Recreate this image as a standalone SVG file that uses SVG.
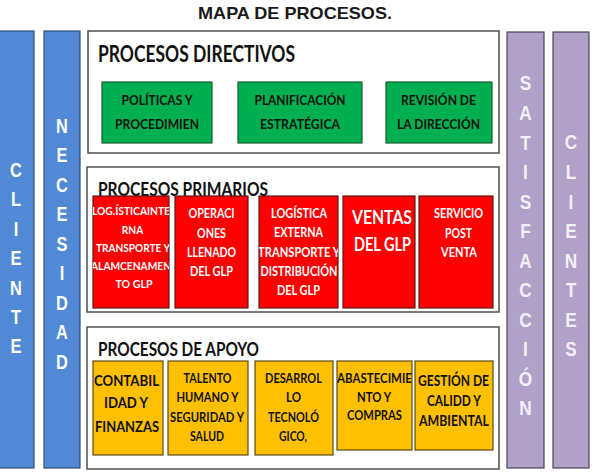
<svg xmlns="http://www.w3.org/2000/svg" width="593" height="473" viewBox="0 0 593 473">
<style>
.bg{fill:#ffffff}
.title{font-family:"Liberation Sans",Arial,sans-serif;font-weight:bold;font-size:17px;fill:#1a1a1a}
.col-blue{fill:#5189d5;stroke:#2f4e78;stroke-width:1.2}
.col-purple{fill:#b1a0c7;stroke:#4a4458;stroke-width:1.2}
.colt{font-family:"Liberation Sans",Arial,sans-serif;font-weight:bold;font-size:20px;fill:#ffffff;text-anchor:middle}
.colp{font-family:"Liberation Sans",Arial,sans-serif;font-weight:bold;font-size:21px;fill:#f4f0fa;text-anchor:middle}
.cont{fill:#ffffff;stroke:#4d4d4d;stroke-width:1.5}
.head{font-family:Lato,"Open Sans",sans-serif;font-weight:bold;fill:#111111}
.green{fill:#00b050;stroke:#1f5a30;stroke-width:1.2}
.red{fill:#ff0000;stroke:#5a1a1a;stroke-width:1.2}
.yellow{fill:#ffc000;stroke:#5a4a1a;stroke-width:1.2}
.bt{font-family:Lato,"Open Sans",sans-serif;font-weight:bold;text-anchor:middle}
.gt{fill:#111111;font-size:14px}
.rt{fill:#ffffff}
.yt{fill:#111111}
</style>
<defs>
<clipPath id="cR1"><rect x="93" y="196" width="76" height="112"/></clipPath>
<clipPath id="cR3"><rect x="259" y="196" width="79" height="112"/></clipPath>
<clipPath id="cY4"><rect x="337" y="361" width="75" height="89"/></clipPath>
</defs>
<rect class="bg" x="0" y="0" width="593" height="473"/>
<text class="title" x="295" y="19" text-anchor="middle" textLength="194" lengthAdjust="spacingAndGlyphs">MAPA DE PROCESOS.</text>

<g id="col-cliente">
<rect class="col-blue" x="-2" y="31" width="36" height="437"/>
<g transform="translate(16 0) scale(0.82 1)">
<text class="colt" x="0" y="177">C</text>
<text class="colt" x="0" y="206.4">L</text>
<text class="colt" x="0" y="235.8">I</text>
<text class="colt" x="0" y="265.2">E</text>
<text class="colt" x="0" y="294.6">N</text>
<text class="colt" x="0" y="324">T</text>
<text class="colt" x="0" y="353.4">E</text>
</g>
</g>

<g id="col-necesidad">
<rect class="col-blue" x="44" y="31" width="36" height="437"/>
<g transform="translate(62 0) scale(0.82 1)">
<text class="colt" x="0" y="133">N</text>
<text class="colt" x="0" y="162.5">E</text>
<text class="colt" x="0" y="192">C</text>
<text class="colt" x="0" y="221.5">E</text>
<text class="colt" x="0" y="251">S</text>
<text class="colt" x="0" y="280.5">I</text>
<text class="colt" x="0" y="310">D</text>
<text class="colt" x="0" y="339.5">A</text>
<text class="colt" x="0" y="369">D</text>
</g>
</g>

<g id="col-satisfaccion">
<rect class="col-purple" x="507" y="32" width="37" height="436"/>
<g transform="translate(525.5 0) scale(0.82 1)">
<text class="colp" x="0" y="90.5">S</text>
<text class="colp" x="0" y="120">A</text>
<text class="colp" x="0" y="149.6">T</text>
<text class="colp" x="0" y="179.1">I</text>
<text class="colp" x="0" y="208.7">S</text>
<text class="colp" x="0" y="238.2">F</text>
<text class="colp" x="0" y="267.8">A</text>
<text class="colp" x="0" y="297.3">C</text>
<text class="colp" x="0" y="326.9">C</text>
<text class="colp" x="0" y="356.4">I</text>
<text class="colp" x="0" y="386">Ó</text>
<text class="colp" x="0" y="415.5">N</text>
</g>
</g>

<g id="col-clientes">
<rect class="col-purple" x="553" y="32" width="36" height="436"/>
<g transform="translate(571 0) scale(0.82 1)">
<text class="colp" x="0" y="149.5">C</text>
<text class="colp" x="0" y="179">L</text>
<text class="colp" x="0" y="208.6">I</text>
<text class="colp" x="0" y="238.2">E</text>
<text class="colp" x="0" y="267.8">N</text>
<text class="colp" x="0" y="297.3">T</text>
<text class="colp" x="0" y="326.9">E</text>
<text class="colp" x="0" y="356.5">S</text>
</g>
</g>

<g id="procesos-directivos">
<rect class="cont" x="88" y="31" width="411" height="122"/>
<text class="head" x="98" y="62" font-size="22" textLength="197" lengthAdjust="spacingAndGlyphs">PROCESOS DIRECTIVOS</text>
</g>
<g id="politicas">
<rect class="green" x="102" y="82" width="110" height="61"/>
<text class="bt gt" x="157" y="105" textLength="71" lengthAdjust="spacingAndGlyphs">POLÍTICAS Y</text>
<text class="bt gt" x="157" y="129" textLength="84" lengthAdjust="spacingAndGlyphs">PROCEDIMIEN</text>
</g>
<g id="planificacion">
<rect class="green" x="238" y="82" width="124" height="61"/>
<text class="bt gt" x="300" y="105" textLength="91" lengthAdjust="spacingAndGlyphs">PLANIFICACIÓN</text>
<text class="bt gt" x="300" y="129" textLength="80" lengthAdjust="spacingAndGlyphs">ESTRATÉGICA</text>
</g>
<g id="revision">
<rect class="green" x="386" y="82" width="106" height="61"/>
<text class="bt gt" x="438.5" y="105" textLength="75" lengthAdjust="spacingAndGlyphs">REVISIÓN DE</text>
<text class="bt gt" x="438.5" y="129" textLength="83" lengthAdjust="spacingAndGlyphs">LA DIRECCIÓN</text>
</g>

<g id="procesos-primarios">
<rect class="cont" x="87" y="167" width="412" height="145"/>
<text class="head" x="98" y="196" font-size="19" textLength="170" lengthAdjust="spacingAndGlyphs">PROCESOS PRIMARIOS</text>
</g>
<g id="logistica-interna">
<rect class="red" x="93" y="196" width="76" height="112"/>
<g clip-path="url(#cR1)" class="bt rt" font-size="11">
<text x="131" y="215" textLength="78" lengthAdjust="spacingAndGlyphs">LOG.ÍSTICAINTE</text>
<text x="132.5" y="234" textLength="21.5" lengthAdjust="spacingAndGlyphs">RNA</text>
<text x="133" y="252" textLength="74" lengthAdjust="spacingAndGlyphs">TRANSPORTE Y</text>
<text x="131" y="270" textLength="80" lengthAdjust="spacingAndGlyphs">ALAMCENAMEN</text>
<text x="134" y="288" textLength="37" lengthAdjust="spacingAndGlyphs">TO GLP</text>
</g>
</g>
<g id="operaciones">
<rect class="red" x="175" y="196" width="73" height="112"/>
<g class="bt rt" font-size="13.5">
<text x="211.5" y="218" textLength="46" lengthAdjust="spacingAndGlyphs">OPERACI</text>
<text x="211.5" y="237.5" textLength="29" lengthAdjust="spacingAndGlyphs">ONES</text>
<text x="211.5" y="256.5" textLength="49" lengthAdjust="spacingAndGlyphs">LLENADO</text>
<text x="211.5" y="276" textLength="43" lengthAdjust="spacingAndGlyphs">DEL GLP</text>
</g>
</g>
<g id="logistica-externa">
<rect class="red" x="259" y="196" width="79" height="112"/>
<g clip-path="url(#cR3)" class="bt rt" font-size="13.5">
<text x="299" y="218" textLength="56" lengthAdjust="spacingAndGlyphs">LOGÍSTICA</text>
<text x="298.5" y="237" textLength="49" lengthAdjust="spacingAndGlyphs">EXTERNA</text>
<text x="299" y="256.5" textLength="82" lengthAdjust="spacingAndGlyphs">TRANSPORTE Y</text>
<text x="299" y="276" textLength="77" lengthAdjust="spacingAndGlyphs">DISTRIBUCIÓN</text>
<text x="298.5" y="295" textLength="43" lengthAdjust="spacingAndGlyphs">DEL GLP</text>
</g>
</g>
<g id="ventas">
<rect class="red" x="343" y="196" width="72" height="112"/>
<g class="bt rt" font-size="19">
<text x="382" y="224" textLength="60" lengthAdjust="spacingAndGlyphs">VENTAS</text>
<text x="382.5" y="251" textLength="57" lengthAdjust="spacingAndGlyphs">DEL GLP</text>
</g>
</g>
<g id="servicio-post-venta">
<rect class="red" x="419" y="196" width="74" height="112"/>
<g class="bt rt" font-size="12.5">
<text x="458.5" y="218" textLength="49" lengthAdjust="spacingAndGlyphs">SERVICIO</text>
<text x="458.5" y="238" textLength="27" lengthAdjust="spacingAndGlyphs">POST</text>
<text x="459" y="256.5" textLength="36" lengthAdjust="spacingAndGlyphs">VENTA</text>
</g>
</g>

<g id="procesos-apoyo">
<rect class="cont" x="87" y="327" width="412" height="142"/>
<text class="head" x="98" y="356" font-size="19" textLength="161" lengthAdjust="spacingAndGlyphs">PROCESOS DE APOYO</text>
</g>
<g id="contabilidad">
<rect class="yellow" x="93" y="361" width="70" height="94"/>
<g class="bt yt" font-size="15">
<text x="126.5" y="386" textLength="65" lengthAdjust="spacingAndGlyphs">CONTABIL</text>
<text x="126" y="408" textLength="44" lengthAdjust="spacingAndGlyphs">IDAD Y</text>
<text x="127" y="432" textLength="64" lengthAdjust="spacingAndGlyphs">FINANZAS</text>
</g>
</g>
<g id="talento-humano">
<rect class="yellow" x="168" y="361" width="80" height="94"/>
<g class="bt yt" font-size="13.5">
<text x="207.5" y="383" textLength="48" lengthAdjust="spacingAndGlyphs">TALENTO</text>
<text x="207.5" y="402" textLength="62" lengthAdjust="spacingAndGlyphs">HUMANO Y</text>
<text x="207" y="421.5" textLength="74" lengthAdjust="spacingAndGlyphs">SEGURIDAD Y</text>
<text x="207" y="440.5" textLength="34" lengthAdjust="spacingAndGlyphs">SALUD</text>
</g>
</g>
<g id="desarrollo-tecnologico">
<rect class="yellow" x="255" y="361" width="78" height="94"/>
<g class="bt yt" font-size="13.5">
<text x="293.5" y="383" textLength="57" lengthAdjust="spacingAndGlyphs">DESARROL</text>
<text x="293.5" y="402" textLength="15" lengthAdjust="spacingAndGlyphs">LO</text>
<text x="293.5" y="421.5" textLength="51" lengthAdjust="spacingAndGlyphs">TECNOLÓ</text>
<text x="293" y="440.5" textLength="28" lengthAdjust="spacingAndGlyphs">GICO,</text>
</g>
</g>
<g id="abastecimiento">
<rect class="yellow" x="337" y="361" width="75" height="89"/>
<g clip-path="url(#cY4)" class="bt yt" font-size="13.5">
<text x="374.5" y="383" textLength="75" lengthAdjust="spacingAndGlyphs">ABASTECIMIE</text>
<text x="374" y="401.5" textLength="34" lengthAdjust="spacingAndGlyphs">NTO Y</text>
<text x="374.5" y="420" textLength="55" lengthAdjust="spacingAndGlyphs">COMPRAS</text>
</g>
</g>
<g id="gestion-calidad">
<rect class="yellow" x="415" y="361" width="78" height="89"/>
<g class="bt yt" font-size="15">
<text x="453.5" y="385.5" textLength="71" lengthAdjust="spacingAndGlyphs">GESTIÓN DE</text>
<text x="454" y="405.5" textLength="54" lengthAdjust="spacingAndGlyphs">CALIDD Y</text>
<text x="454" y="426" textLength="70" lengthAdjust="spacingAndGlyphs">AMBIENTAL</text>
</g>
</g>
<g id="connectors"></g>
</svg>
